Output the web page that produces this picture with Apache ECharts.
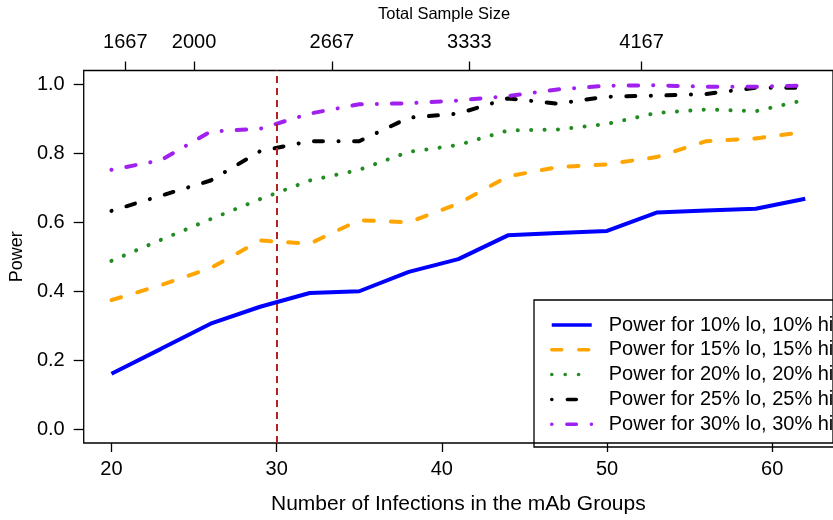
<!DOCTYPE html>
<html>
<head>
<meta charset="utf-8">
<script src="https://cdn.jsdelivr.net/npm/echarts@6/dist/echarts.min.js"></script>
<style>
  html, body { margin: 0; padding: 0; background: #fff; }
  #chart { width: 833px; height: 520px; }
</style>
</head>
<body>
<div id="chart"></div>
<script>
var infections = [20, 23, 26, 29, 32, 35, 38, 41, 44, 47, 50, 53, 56, 59, 62];
var sampleTicks = [1667, 2000, 2667, 3333, 4167];
var powerTicks = [0, 0.2, 0.4, 0.6, 0.8, 1.0];
var infectionTicks = [20, 30, 40, 50, 60];

var power10 = [0.161, 0.233, 0.306, 0.355, 0.395, 0.400, 0.456, 0.493, 0.562, 0.569, 0.575, 0.628, 0.634, 0.639, 0.668];
var power15 = [0.374, 0.418, 0.467, 0.547, 0.538, 0.606, 0.600, 0.654, 0.733, 0.760, 0.768, 0.789, 0.835, 0.843, 0.862];
var power20 = [0.488, 0.549, 0.609, 0.667, 0.721, 0.752, 0.804, 0.824, 0.866, 0.869, 0.885, 0.917, 0.927, 0.922, 0.955];
var power25 = [0.633, 0.677, 0.721, 0.806, 0.835, 0.835, 0.903, 0.915, 0.959, 0.944, 0.964, 0.967, 0.972, 0.990, 0.990];
var power30 = [0.752, 0.780, 0.863, 0.871, 0.915, 0.942, 0.945, 0.953, 0.966, 0.985, 0.996, 0.997, 0.993, 0.993, 0.996];

var names = [
    'Power for 10% lo, 10% hi',
    'Power for 15% lo, 15% hi',
    'Power for 20% lo, 20% hi',
    'Power for 25% lo, 25% hi',
    'Power for 30% lo, 30% hi'
];

var refLine = 30;
var perSample = 80; // total sample size per infection

var font = 'Liberation Sans, Arial, sans-serif';

function pairs(ys) {
    return infections.map(function (x, i) { return [x, ys[i]]; });
}

var chart = echarts.init(document.getElementById('chart'));

var xMin = 18.32, xMax = 63.68;

chart.setOption({
    animation: false,
    textStyle: { fontFamily: font, color: '#000' },
    grid: {
        left: 82,
        top: 70.5,
        width: 763.5,
        height: 376,
        show: true,
        borderColor: '#000',
        borderWidth: 1.3,
        backgroundColor: 'transparent'
    },
    xAxis: [{
        type: 'value',
        position: 'bottom',
        min: xMin,
        max: xMax,
        name: 'Number of Infections in the mAb Groups',
        nameLocation: 'middle',
        nameGap: 51,
        nameTextStyle: { fontSize: 21, fontFamily: font, color: '#000' },
        axisLine: { show: false, onZero: false },
        splitLine: { show: false },
        axisTick: { show: true, length: 9, lineStyle: { color: '#000', width: 1.3 }, customValues: infectionTicks },
        axisLabel: { fontSize: 20, color: '#000', margin: 16, customValues: infectionTicks }
    }, {
        type: 'value',
        position: 'top',
        min: xMin * perSample,
        max: xMax * perSample,
        axisLine: { show: false, onZero: false },
        splitLine: { show: false },
        axisTick: { show: true, length: 9, lineStyle: { color: '#000', width: 1.3 }, customValues: sampleTicks },
        axisLabel: {
            fontSize: 20, color: '#000', margin: 18, customValues: sampleTicks,
            formatter: function (v) { return String(v); }
        }
    }],
    yAxis: {
        type: 'value',
        min: -0.04,
        max: 1.04,
        name: 'Power',
        nameLocation: 'middle',
        nameRotate: 90,
        nameGap: 52,
        nameTextStyle: { fontSize: 18, fontFamily: font, color: '#000' },
        axisLine: { show: false, onZero: false },
        splitLine: { show: false },
        axisTick: { show: true, length: 10, lineStyle: { color: '#000', width: 1.3 }, customValues: powerTicks },
        axisLabel: {
            fontSize: 20, color: '#000', margin: 19, customValues: powerTicks,
            formatter: function (v) { return v.toFixed(1); }
        }
    },
    legend: {
        orient: 'vertical',
        left: 550,
        top: 314,
        padding: 0,
        itemWidth: 40,
        itemHeight: 14,
        itemGap: 2.8,
        data: names,
        itemStyle: { opacity: 0 },
        lineStyle: { width: 3.5 },
        textStyle: { fontSize: 20, fontFamily: font, color: '#000', lineHeight: 22, padding: [0, 0, 0, 12] }
    },
    graphic: [{
        type: 'text',
        left: 445 - 67,
        top: 6,
        style: { text: 'Total Sample Size', fontSize: 16.5, fontFamily: font, fill: '#000' }
    }, {
        type: 'rect',
        shape: { x: 534, y: 300, width: 330, height: 147 },
        style: { fill: 'none', stroke: '#000', lineWidth: 1.3 }
    }],
    series: [{
        name: names[0],
        type: 'line',
        data: pairs(power10),
        symbol: 'none',
        lineStyle: { color: '#0000FF', width: 4 },
        itemStyle: { color: '#0000FF' },
        markLine: {
            silent: true,
            symbol: ['none', 'none'],
            label: { show: false },
            lineStyle: { color: '#B22222', type: [7, 5], width: 2 },
            data: [{ xAxis: refLine }]
        }
    }, {
        name: names[1],
        type: 'line',
        data: pairs(power15),
        symbol: 'none',
        lineStyle: { color: '#FFA500', width: 4, type: [10, 17], cap: 'round' },
        itemStyle: { color: '#FFA500' }
    }, {
        name: names[2],
        type: 'line',
        data: pairs(power20),
        symbol: 'none',
        lineStyle: { color: '#228B22', width: 4, type: [0.1, 13.3], cap: 'round' },
        itemStyle: { color: '#228B22' }
    }, {
        name: names[3],
        type: 'line',
        data: pairs(power25),
        symbol: 'none',
        lineStyle: { color: '#000000', width: 4, type: [0.1, 15.5, 9, 15.5], cap: 'round' },
        itemStyle: { color: '#000000' }
    }, {
        name: names[4],
        type: 'line',
        data: pairs(power30),
        symbol: 'none',
        lineStyle: { color: '#A020F0', width: 4, type: [0.1, 15, 9.5, 15], cap: 'round' },
        itemStyle: { color: '#A020F0' }
    }]
});
</script>
</body>
</html>
